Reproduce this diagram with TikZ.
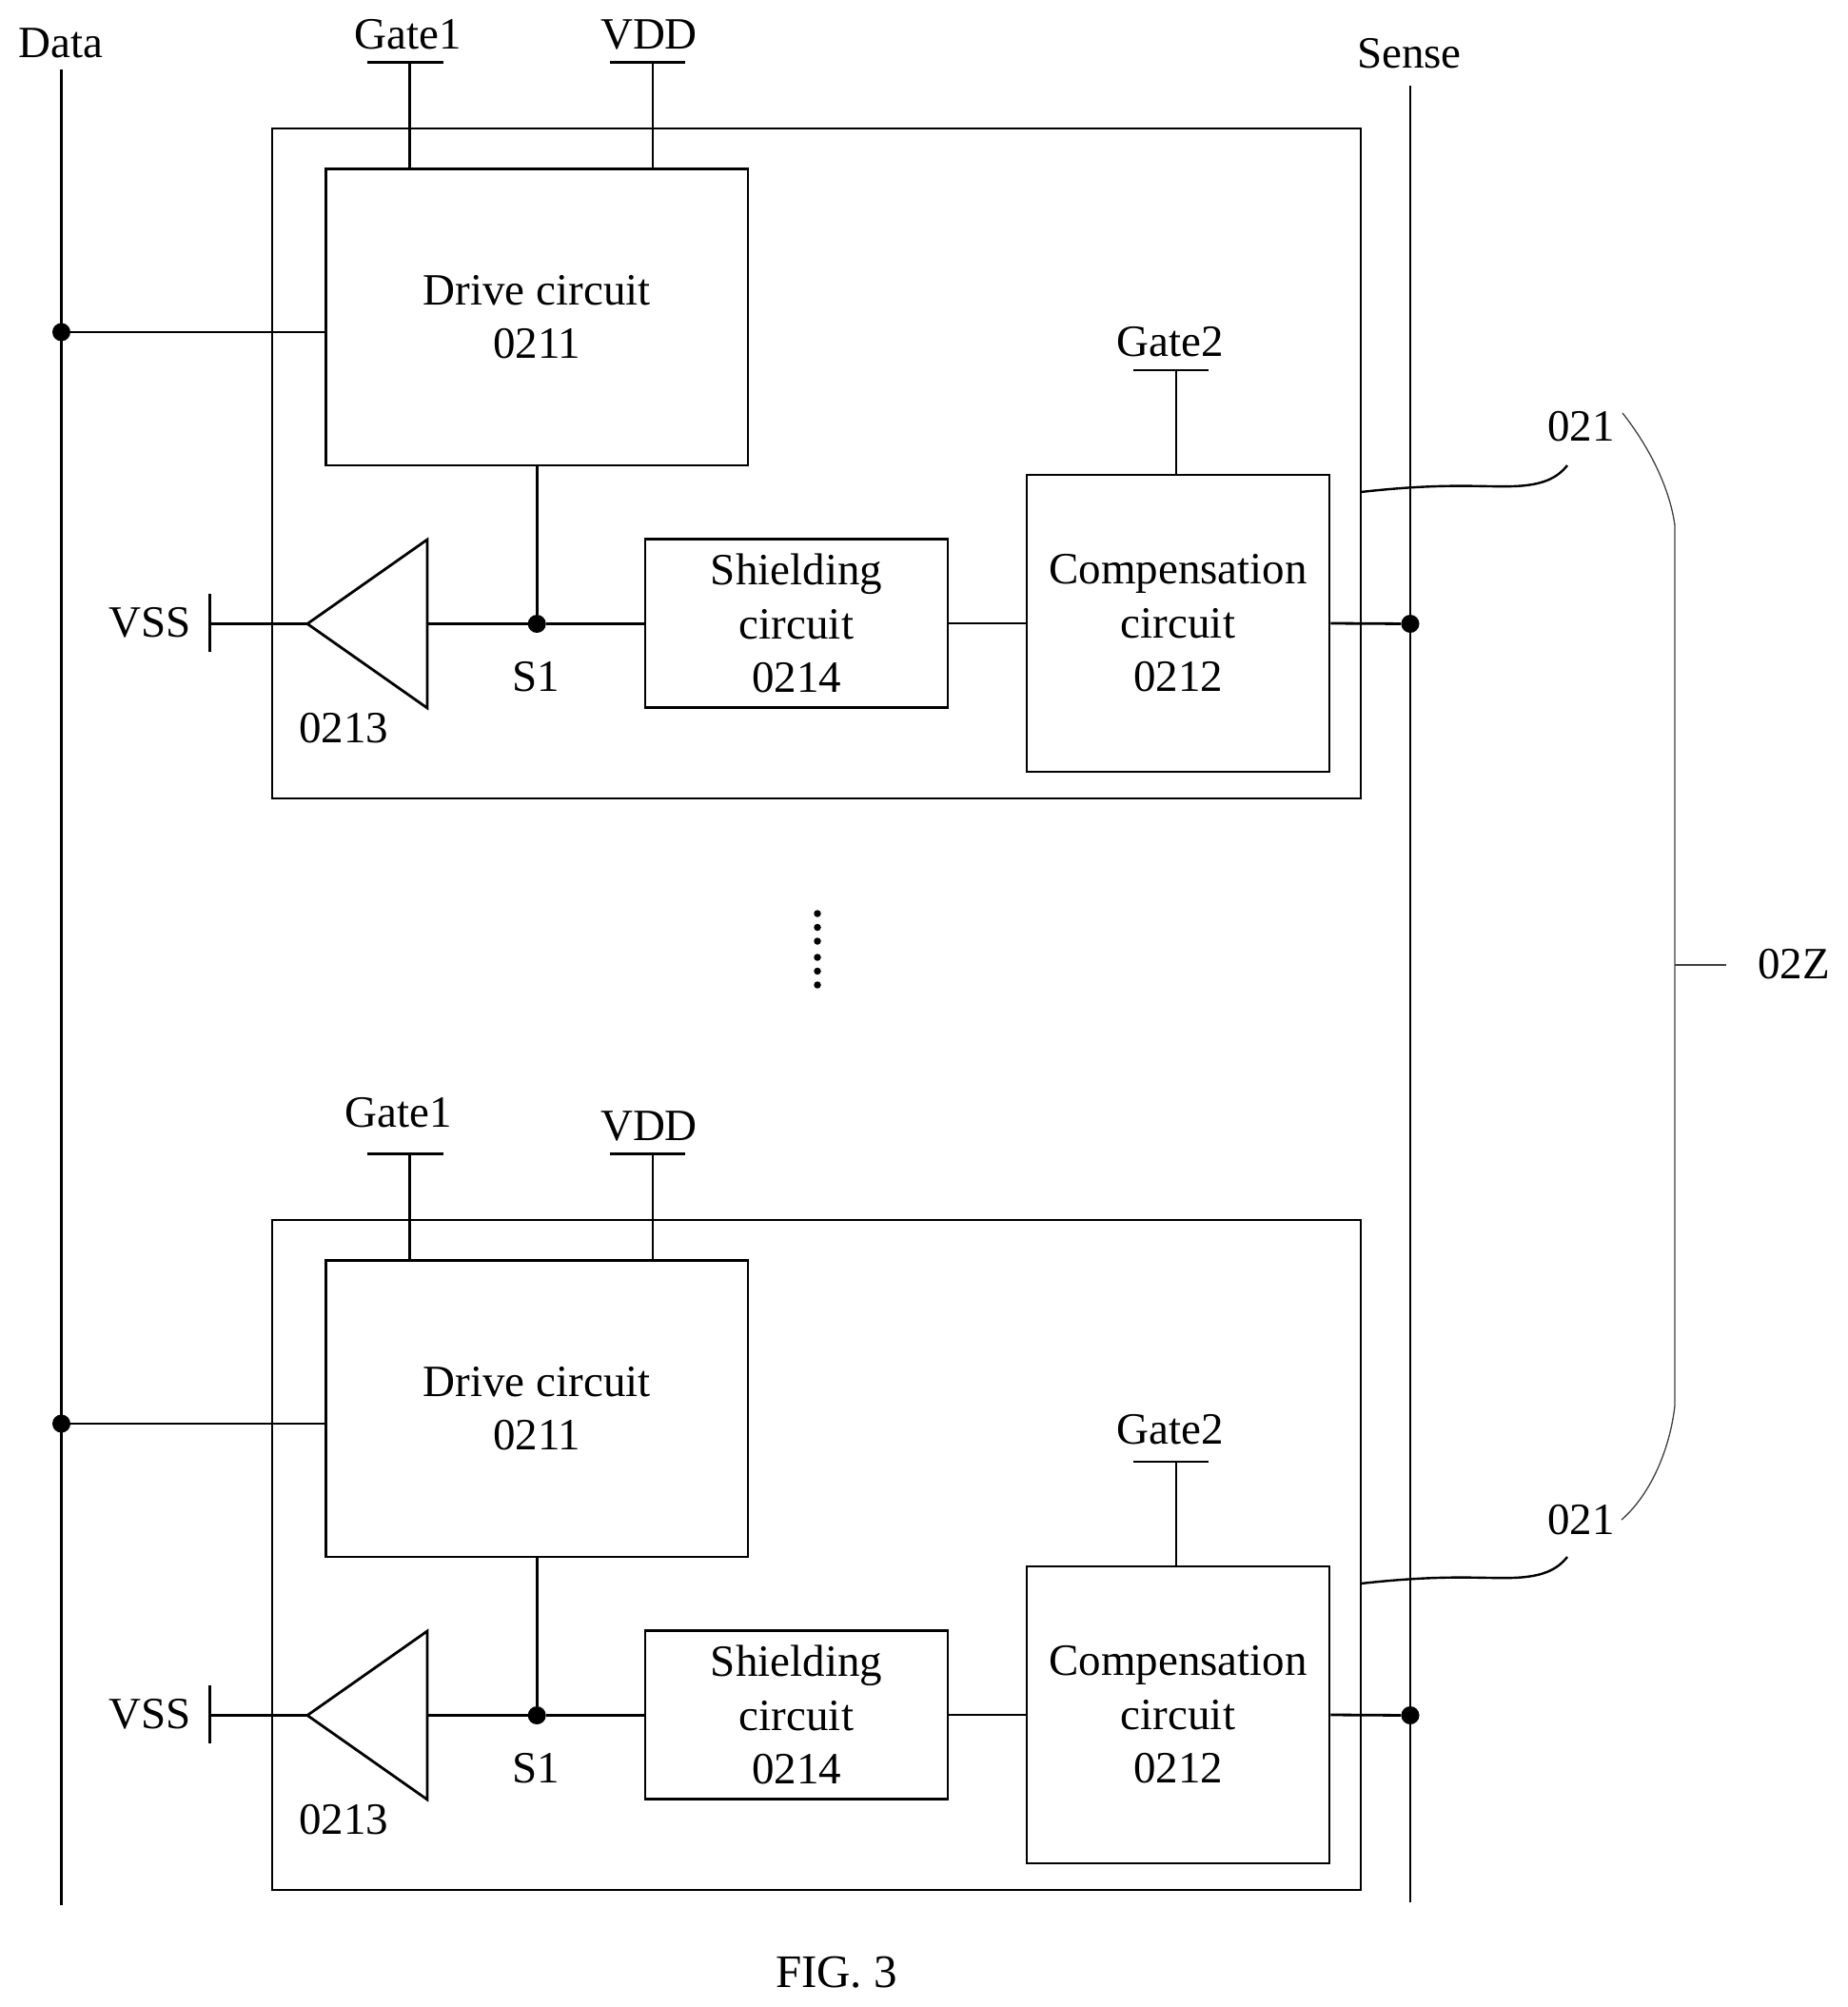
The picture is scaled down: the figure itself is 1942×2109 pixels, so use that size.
\documentclass[tikz,border=0pt]{standalone}
\usepackage{fontspec}
\setmainfont{Liberation Serif}
\tikzset{
  x=1pt,y=-1pt,
  wire/.style={line width=2.8pt,black},
  thinwire/.style={line width=1.3pt,black!75},
  boxnode/.style={draw=black,line width=2.8pt,rectangle,inner sep=0pt,align=center,font=\fontsize{47}{56.6}\selectfont},
  lab/.style={inner sep=0pt,font=\fontsize{47}{56}\selectfont,anchor=base},
  junction/.style={circle,fill=black,draw=none,minimum size=19pt,inner sep=0pt},
  sdot/.style={circle,fill=black,draw=none,minimum size=7.5pt,inner sep=0pt}
}
\begin{document}
\begin{tikzpicture}
\useasboundingbox (0,0) rectangle (1942,2109);
% bus lines
\coordinate (dataT) at (64.5,73);
\coordinate (dataB) at (64.5,2002);
\coordinate (senseT) at (1482,90);
\coordinate (senseB) at (1482,1999);
\draw[wire] (dataT) -- (dataB);
\draw[wire] (senseT) -- (senseB);
\node[lab] (dataL) at (64,60.5) {Data};
\node[lab] (senseL) at (1481,71) {Sense};
% two repeated blocks
\foreach \s/\o/\gx/\gy/\vy/\hy in {a/0/429/52/52/374,b/1147/419/37/51/370}{
\begin{scope}[shift={(0,\o)}]
  \node[draw=black,line width=2.8pt,rectangle,inner sep=0pt,minimum width=1144pt,minimum height=704pt] (outer\s) at (858,487) {};
  \node[boxnode,minimum width=443.6pt,minimum height=311.6pt] (drive\s) at (564.2,333.2) {Drive circuit\\0211};
  \node[boxnode,minimum width=318pt,minimum height=177pt] (shield\s) at (837,655) {Shielding\\circuit\\0214};
  \node[boxnode,minimum width=318pt,minimum height=312pt] (comp\s) at (1238,655) {Compensation\\circuit\\0212};
  % gate1 terminal
  \coordinate (gaL\s) at (386,65.5);
  \coordinate (gaR\s) at (466,65.5);
  \coordinate (gaS\s) at (430.5,65.5);
  \draw[wire] (gaL\s) -- (gaR\s);
  \draw[wire] (gaS\s) -- (gaS\s |- drive\s.north);
  \node[lab] (gaT\s) at (\gx,\gy) {Gate1};
  % VDD terminal
  \coordinate (vdL\s) at (641,65.5);
  \coordinate (vdR\s) at (720,65.5);
  \coordinate (vdS\s) at (686,65.5);
  \draw[wire] (vdL\s) -- (vdR\s);
  \draw[wire] (vdS\s) -- (vdS\s |- drive\s.north);
  \node[lab] (vdT\s) at (682,\vy) {VDD};
  % gate2 terminal
  \coordinate (hgL\s) at (1191,389);
  \coordinate (hgR\s) at (1269.5,389);
  \coordinate (hgS\s) at (1236,389);
  \draw[wire] (hgL\s) -- (hgR\s);
  \draw[wire] (hgS\s) -- (hgS\s |- comp\s.north);
  \node[lab] (hgT\s) at (1229.5,\hy) {Gate2};
  % data junction
  \node[junction] (dd\s) at (64.5,349) {};
  \draw[wire] (dd\s) -- (dd\s -| drive\s.west);
  % S1 junction
  \node[junction] (sj\s) at (564.2,655.5) {};
  \draw[wire] (drive\s.south) -- (sj\s);
  \draw[wire] (sj\s) -- (sj\s -| shield\s.west);
  \node[lab] (sl\s) at (563,726) {S1};
  % triangle
  \coordinate (triA\s) at (323,655.5);
  \coordinate (triT\s) at (449,567);
  \coordinate (triB\s) at (449,744);
  \coordinate (triM\s) at (449,655.5);
  \draw[wire,line join=miter] (triT\s) -- (triA\s) -- (triB\s) -- cycle;
  \draw[wire] (triM\s) -- (sj\s);
  \node[lab] (triL\s) at (361,780) {0213};
  % VSS
  \coordinate (vsT\s) at (220.5,624);
  \coordinate (vsB\s) at (220.5,685);
  \coordinate (vsM\s) at (220.5,655.5);
  \draw[wire] (vsT\s) -- (vsB\s);
  \draw[wire] (vsM\s) -- (triA\s);
  \node[lab] (vsL\s) at (157.5,669) {VSS};
  % links
  \draw[wire] (shield\s.east) -- (comp\s.west);
  \node[junction] (sd\s) at (1482,655.5) {};
  \draw[wire] (comp\s.east) -- (sd\s);
  % leader
  \coordinate (ldS\s) at (1430,517);
  \coordinate (ldE\s) at (1647,489);
  \draw[line width=2.4pt] (ldS\s) .. controls (1520,507) and (1555,512) .. (1590,511) .. controls (1620,510) and (1636,503) .. (ldE\s);
\end{scope}
}
\node[lab] (n21a) at (1661.5,463) {021};
\node[lab] (n21b) at (1661.5,1612.5) {021};
% ellipsis dots
\node[sdot] (e1) at (859,960) {};
\node[sdot] (e2) at (859,974.5) {};
\node[sdot] (e3) at (859,989) {};
\node[sdot] (e4) at (859,1006) {};
\node[sdot] (e5) at (859,1020.5) {};
\node[sdot] (e6) at (859,1035) {};
% brace
\coordinate (brT) at (1705,434);
\coordinate (brB) at (1704,1597);
\coordinate (brS1) at (1760,552);
\coordinate (brS2) at (1760,1477);
\coordinate (brM) at (1760,1014);
\coordinate (brE) at (1814,1014);
\draw[thinwire] (brT) .. controls (1735,472) and (1755,515) .. (brS1) -- (brS2) .. controls (1755,1522) and (1735,1570) .. (brB);
\draw[thinwire] (brM) -- (brE);
\node[lab] (n2z) at (1885,1028.5) {02Z};
\node[inner sep=0pt,anchor=base,font=\fontsize{49}{56}\selectfont] (fig) at (879,2088) {FIG. 3};
\end{tikzpicture}
\end{document}
